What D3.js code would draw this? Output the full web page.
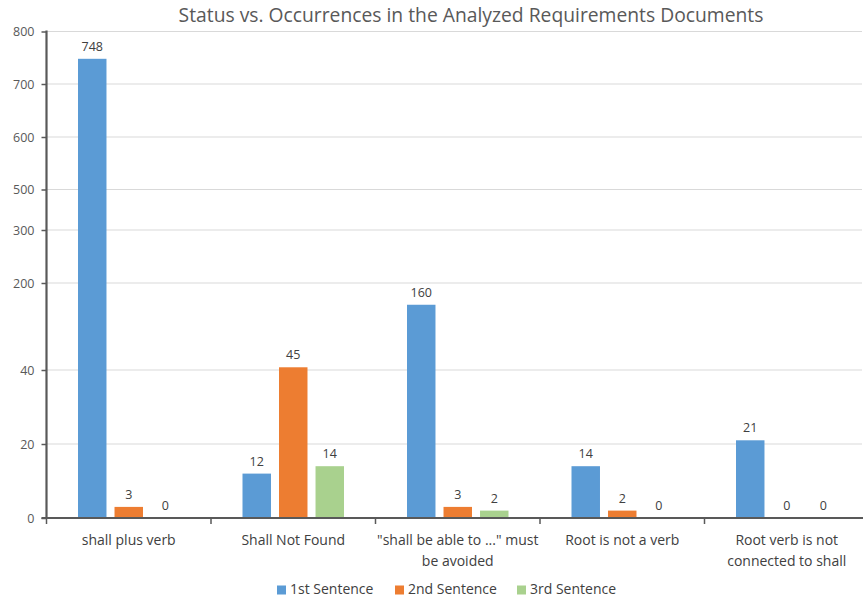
<!DOCTYPE html>
<html>
<head>
<meta charset="utf-8">
<script src="https://cdn.jsdelivr.net/npm/d3@7"></script>
<style>
  html, body { margin: 0; padding: 0; background: #fff; }
  svg { display: block; font-family: "Open Sans", "Noto Sans", sans-serif; }
</style>
</head>
<body>
<svg id="chart" width="863" height="600"></svg>
<script>
// Categories (label lines) and the three sentence series
const categories = [
  ["shall plus verb"],
  ["Shall Not Found"],
  ["\"shall be able to ...\" must", "be avoided"],
  ["Root is not a verb"],
  ["Root verb is not", "connected to shall"]
];
const seriesNames = ["1st Sentence", "2nd Sentence", "3rd Sentence"];
const firstSentence  = [748, 12, 160, 14, 21];
const secondSentence = [3, 45, 3, 2, 0];
const thirdSentence  = [0, 14, 2, 0, 0];
const yTicks = [0, 20, 40, 200, 300, 500, 600, 700, 800];
const colors = ["#5b9bd5", "#ed7d31", "#a9d18e"];

const series = [firstSentence, secondSentence, thirdSentence];

const svg = d3.select("#chart");
const plotLeft = 46.5, plotRight = 869, plotBottom = 518, plotTop = 31.5;

// Broken value axis: each labelled tick sits at its own position
const tickPos = [518, 444, 370, 283, 230, 189.5, 137, 84, 31.5];
const y = d3.scaleLinear().domain(yTicks).range(tickPos);

const x = d3.scaleBand().domain(d3.range(categories.length)).range([plotLeft, plotRight]);
const groupWidth = 101.5;
const xs = d3.scaleBand().domain(d3.range(series.length))
  .range([0, groupWidth]).paddingInner(0.22);

// Title
svg.append("text")
  .attr("x", 471).attr("y", 22)
  .attr("text-anchor", "middle")
  .attr("font-size", 19.3)
  .attr("fill", "#595959")
  .text("Status vs. Occurrences in the Analyzed Requirements Documents");

// Gridlines
svg.append("g").selectAll("line")
  .data(yTicks.filter(d => d > 0))
  .join("line")
  .attr("x1", plotLeft).attr("x2", 862)
  .attr("y1", d => y(d)).attr("y2", d => y(d))
  .attr("stroke", "#d9d9d9").attr("stroke-width", 1);

// Bars
const groups = svg.append("g").selectAll("g")
  .data(categories.map((c, i) => i))
  .join("g")
  .attr("transform", i => `translate(${x(i) + (x.bandwidth() - groupWidth) / 2},0)`);

groups.each(function(i) {
  const g = d3.select(this);
  series.forEach((s, k) => {
    const v = s[i];
    g.append("rect")
      .attr("x", xs(k)).attr("width", xs.bandwidth())
      .attr("y", y(v)).attr("height", y(0) - y(v))
      .attr("fill", colors[k]);
    g.append("text")
      .attr("x", xs(k) + xs.bandwidth() / 2)
      .attr("y", y(v) - 8)
      .attr("text-anchor", "middle")
      .attr("font-size", 12.5)
      .attr("fill", "#404040")
      .text(v);
  });
});

// Y axis
const yAxis = d3.axisLeft(y).tickValues(yTicks).tickSize(5).tickPadding(7);
const ya = svg.append("g").attr("transform", `translate(${plotLeft},0)`).call(yAxis);
ya.select(".domain").attr("stroke", "#595959").attr("stroke-width", 2.2)
  .attr("d", `M0,${plotTop - 1}V${plotBottom}`);
ya.selectAll(".tick line").attr("stroke", "#595959").attr("stroke-width", 1.5);
ya.selectAll(".tick text").attr("font-size", 12.5).attr("fill", "#595959")
  .attr("font-family", "\"Open Sans\", sans-serif");

// X axis line and category boundary ticks
svg.append("line")
  .attr("x1", plotLeft - 5).attr("x2", 863)
  .attr("y1", plotBottom).attr("y2", plotBottom)
  .attr("stroke", "#595959").attr("stroke-width", 2.2);
svg.append("g").selectAll("line")
  .data(d3.range(categories.length))
  .join("line")
  .attr("x1", i => x(i)).attr("x2", i => x(i))
  .attr("y1", plotBottom).attr("y2", plotBottom + 6)
  .attr("stroke", "#595959").attr("stroke-width", 1.5);

// Category labels
svg.append("g").selectAll("text")
  .data(categories)
  .join("text")
  .attr("x", (c, i) => x(i) + x.bandwidth() / 2)
  .attr("y", 545)
  .attr("text-anchor", "middle")
  .attr("font-size", 14)
  .attr("fill", "#404040")
  .each(function(c) {
    const t = d3.select(this);
    c.forEach((line, j) => {
      t.append("tspan").attr("x", t.attr("x")).attr("dy", j === 0 ? 0 : 21).text(line);
    });
  });

// Legend
const legendX = [277, 395, 517];
const lg = svg.append("g").selectAll("g")
  .data(seriesNames)
  .join("g")
  .attr("transform", (d, k) => `translate(${legendX[k]},594)`);
lg.append("rect").attr("x", 0).attr("y", -8.5).attr("width", 9).attr("height", 9)
  .attr("fill", (d, k) => colors[k]);
lg.append("text").attr("x", 13).attr("y", 0)
  .attr("font-size", 14).attr("fill", "#404040")
  .text(d => d);
</script>
</body>
</html>
